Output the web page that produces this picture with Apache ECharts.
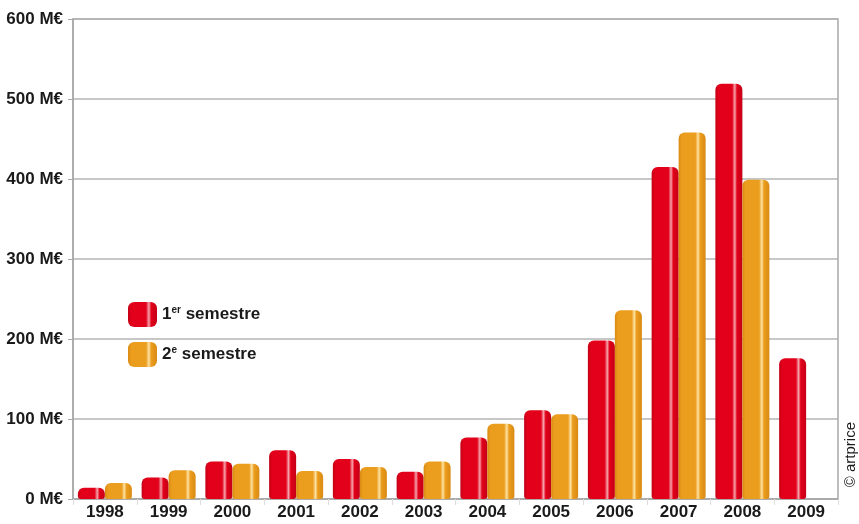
<!DOCTYPE html>
<html>
<head>
<meta charset="utf-8">
<script src="https://cdn.jsdelivr.net/npm/echarts@6/dist/echarts.min.js"></script>
<style>
  html, body { margin: 0; padding: 0; background: #fff; }
  #chart { width: 859px; height: 524px; }
</style>
</head>
<body>
<div id="chart"></div>
<script>
// Auction turnover by half-year, in millions of euros
const years = ['1998', '1999', '2000', '2001', '2002', '2003', '2004', '2005', '2006', '2007', '2008', '2009'];
const firstHalf = [14, 27, 47, 61, 50, 34, 77, 111, 198, 415, 519, 176];
const secondHalf = [20, 36, 44, 35, 40, 47, 94, 106, 236, 458, 399, null];
const yTicks = [0, 100, 200, 300, 400, 500, 600];

const FONT = '"Liberation Sans", Arial, sans-serif';

// glossy vertical highlight across each bar
function gloss(base, dark, light) {
  return new echarts.graphic.LinearGradient(0, 0, 1, 0, [
    { offset: 0, color: dark },
    { offset: 0.12, color: base },
    { offset: 0.62, color: base },
    { offset: 0.72, color: light },
    { offset: 0.8, color: base },
    { offset: 1, color: dark }
  ]);
}

const chart = echarts.init(document.getElementById('chart'), null, { renderer: 'canvas' });

chart.setOption({
  backgroundColor: '#ffffff',
  animation: false,
  grid: {
    left: 73, right: 21, top: 19, bottom: 25,
    show: true, borderColor: '#a8a8a8', borderWidth: 1.5
  },
  legend: {
    orient: 'vertical',
    left: 123, top: 297,
    itemWidth: 29, itemHeight: 25, itemGap: 15,
    icon: 'roundRect',
    data: ['1er semestre', '2e semestre'],
    formatter: function (name) {
      return name === '1er semestre'
        ? '1{sup|er} semestre'
        : '2{sup|e} semestre';
    },
    textStyle: {
      fontFamily: FONT, fontWeight: 'bold', fontSize: 17, color: '#1a1a1a',
      rich: {
        sup: { fontFamily: FONT, fontWeight: 'bold', fontSize: 10, color: '#1a1a1a', verticalAlign: 'top', padding: [0, 0, 9, 0] }
      }
    }
  },
  xAxis: {
    type: 'category',
    data: years,
    axisLine: { lineStyle: { color: '#a8a8a8', width: 1.5 } },
    axisTick: { show: true, length: 6, lineStyle: { color: '#dddddd' } },
    axisLabel: {
      fontFamily: FONT, fontWeight: 'bold', fontSize: 17, color: '#1a1a1a', margin: 5
    }
  },
  yAxis: {
    type: 'value',
    min: 0, max: 600, interval: 100,
    axisLine: { show: true, lineStyle: { color: '#a8a8a8', width: 1.5 } },
    axisTick: { show: true, length: 5, lineStyle: { color: '#a8a8a8' } },
    axisLabel: {
      fontFamily: FONT, fontWeight: 'bold', fontSize: 17, color: '#1a1a1a', margin: 10,
      formatter: function (v) { return yTicks.indexOf(v) >= 0 ? v + ' M€' : ''; }
    },
    splitLine: { lineStyle: { color: '#b4b4b4', width: 1.5 } }
  },
  series: [
    {
      name: '1er semestre',
      type: 'bar',
      data: firstHalf,
      barWidth: 27,
      barGap: '0%',
      itemStyle: {
        color: gloss('#e2001a', '#c40016', '#f6a3ab'),
        borderRadius: [6, 6, 3, 3]
      }
    },
    {
      name: '2e semestre',
      type: 'bar',
      data: secondHalf,
      barWidth: 27,
      barGap: '0%',
      itemStyle: {
        color: gloss('#eb9d1e', '#d98a12', '#fde2a2'),
        borderRadius: [6, 6, 3, 3]
      }
    }
  ],
  graphic: [
    {
      type: 'text',
      left: 843, top: 422,
      rotation: Math.PI / 2,
      style: {
        text: '© artprice',
        fontFamily: FONT, fontSize: 15, fill: '#1a1a1a'
      }
    }
  ]
});
</script>
</body>
</html>
